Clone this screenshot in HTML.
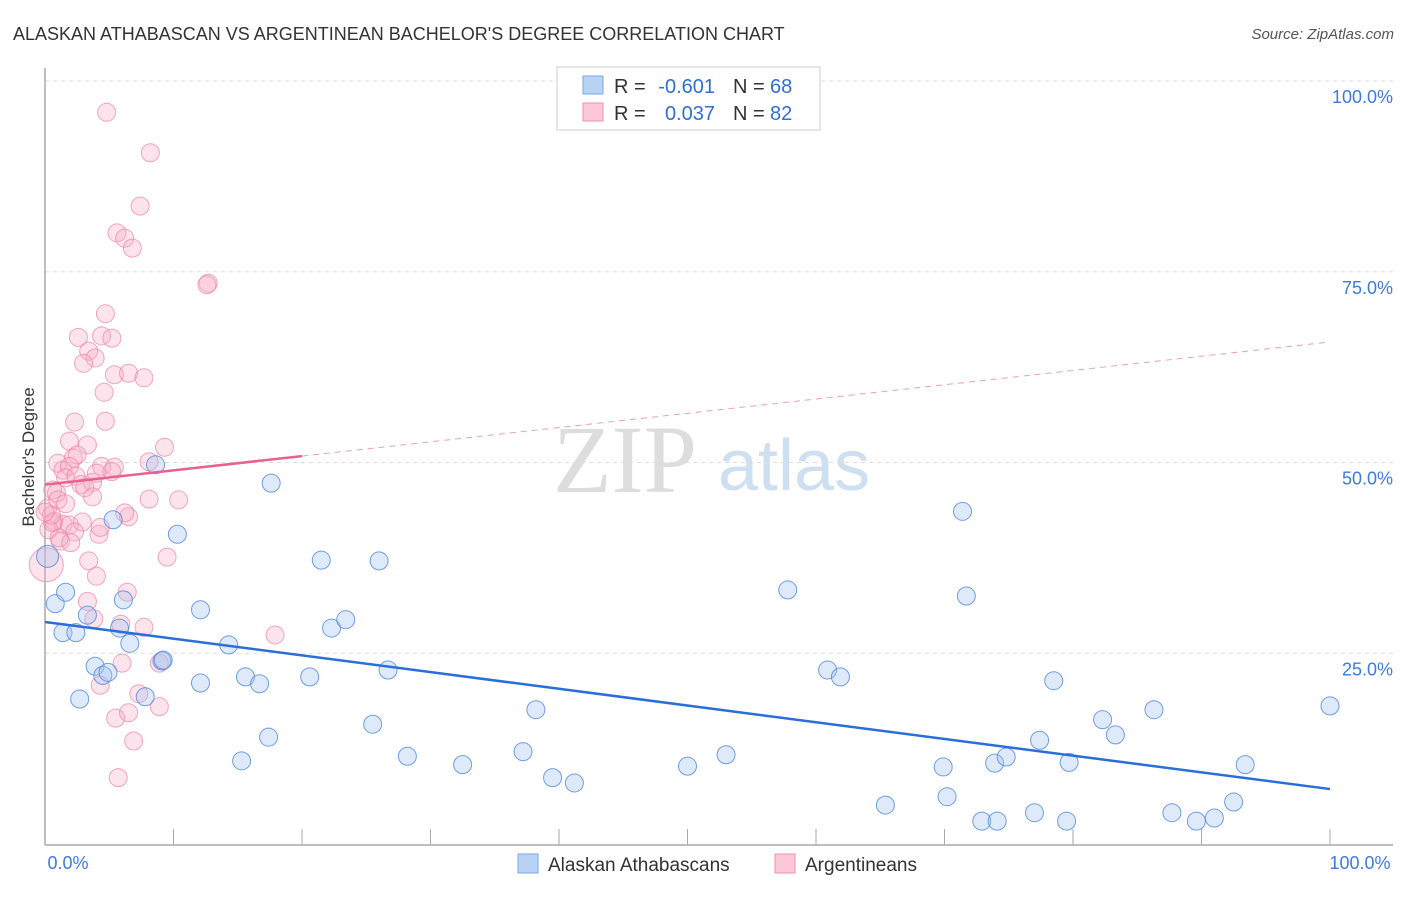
<!DOCTYPE html>
<html><head><meta charset="utf-8"><style>
body{margin:0;background:#fff;font-family:"Liberation Sans",sans-serif}
</style></head><body>
<svg id="chart" width="1406" height="892" xmlns="http://www.w3.org/2000/svg" font-family="Liberation Sans, sans-serif">
<text x="13" y="40" font-size="18" fill="#333">ALASKAN ATHABASCAN VS ARGENTINEAN BACHELOR'S DEGREE CORRELATION CHART</text>
<text x="1394" y="39" font-size="15" fill="#555" font-style="italic" text-anchor="end">Source: ZipAtlas.com</text>
<text transform="translate(34,457) rotate(-90)" font-size="17" fill="#333" text-anchor="middle">Bachelor's Degree</text>
<g><text x="553" y="492" font-size="96" font-family="Liberation Serif, serif" fill="#ddd">ZIP</text><text x="718" y="490" font-size="72" fill="#cfdff2">atlas</text></g>
<g id="grid"></g><g id="axes"></g><g id="pts"></g><g id="lines"></g>
<g>
<rect x="557" y="67" width="263" height="63" fill="#fff" stroke="#ccc"/>
<rect x="583" y="76" width="20" height="18" fill="#b9d3f5" stroke="#7aa6e6"/>
<rect x="583" y="103" width="20" height="18" fill="#fcc7d6" stroke="#ef93ae"/>
<text x="614" y="93" font-size="20" fill="#333">R =</text>
<text x="715" y="93" font-size="20" fill="#2f6fd6" text-anchor="end">-0.601</text>
<text x="733" y="93" font-size="20" fill="#333">N =</text>
<text x="770" y="93" font-size="20" fill="#2f6fd6">68</text>
<text x="614" y="120" font-size="20" fill="#333">R =</text>
<text x="715" y="120" font-size="20" fill="#2f6fd6" text-anchor="end">0.037</text>
<text x="733" y="120" font-size="20" fill="#333">N =</text>
<text x="770" y="120" font-size="20" fill="#2f6fd6">82</text>
</g>
<g>
<rect x="518" y="854" width="20" height="19" fill="#b9d3f5" stroke="#7aa6e6"/>
<text x="548" y="871" font-size="19" fill="#333">Alaskan Athabascans</text>
<rect x="775" y="854" width="20" height="19" fill="#fcc7d6" stroke="#ef93ae"/>
<text x="805" y="871" font-size="19" fill="#333">Argentineans</text>
</g>
</svg>
<script>
const blueX=[8.6,17.6,5.3,10.3,71.4,0.2,21.5,26.0,0.8,1.6,6.1,3.3,12.1,57.8,71.7,22.3,23.4,1.4,2.4,5.8,6.6,14.3,9.1,3.9,4.5,26.7,12.1,15.6,16.7,20.6,60.9,61.9,78.5,2.7,7.8,38.2,100,25.5,82.3,86.3,83.3,17.4,77.4,15.3,28.2,32.5,37.2,53.0,50.0,39.5,41.2,69.9,73.9,74.8,79.7,93.4,65.4,70.2,72.9,74.1,77.0,79.5,87.7,89.6,91.0,92.5,9.2,4.9];
const blueY=[49.7,47.3,42.5,40.6,43.6,37.7,37.2,37.1,31.5,33.0,32.0,30.0,30.7,33.3,32.5,28.3,29.4,27.7,27.7,28.3,26.3,26.1,24.0,23.3,22.1,22.8,21.1,21.9,21.0,21.9,22.8,21.9,21.4,19.0,19.3,17.6,18.1,15.7,16.3,17.6,14.3,14.0,13.6,10.9,11.5,10.4,12.1,11.7,10.2,8.7,8.0,10.1,10.6,11.4,10.7,10.4,5.1,6.2,3.0,3.0,4.1,3.0,4.1,3.0,3.4,5.5,24.1,22.5];
const pinkX=[4.8,8.2,7.4,5.6,6.2,6.8,12.7,12.6,4.7,2.6,4.4,5.2,3.4,3.9,3.0,5.4,6.5,7.7,4.6,2.3,4.7,1.9,3.3,9.3,1.0,2.2,2.5,1.4,1.9,1.6,2.4,3.7,4.4,5.4,8.1,0.6,0.9,0.2,3.7,8.1,10.4,0.7,1.4,1.9,2.9,0.3,0.6,2.3,1.2,1.1,4.2,6.5,6.2,9.5,3.4,4.0,0.1,6.4,3.3,3.8,5.9,7.7,17.9,8.9,6.0,4.3,7.3,8.9,5.5,6.5,6.9,5.7,5.2,4.0,1.0,1.6,2.8,3.1,0.5,4.3,0,2.0];
const pinkY=[95.9,90.6,83.6,80.1,79.4,78.1,73.5,73.3,69.5,66.4,66.6,66.3,64.6,63.7,63.0,61.5,61.7,61.1,59.2,55.3,55.4,52.8,52.3,52.0,49.9,50.6,51.0,49.0,49.5,48.0,48.2,47.4,49.5,49.4,50.1,46.4,46.0,44.0,45.5,45.2,45.1,42.3,41.9,41.8,42.2,41.2,42.1,40.9,39.7,40.1,40.6,42.9,43.4,37.6,37.1,35.1,36.6,33.0,31.8,29.5,28.8,28.4,27.4,23.7,23.7,20.8,19.7,18.0,16.5,17.2,13.5,8.7,48.8,48.6,45.1,44.6,47.1,46.7,43.1,41.5,43.5,39.5];
const blueTrend=[29.1,7.2];
const pinkTrend=[47.1,65.8];
const yTicks=[100,75,50,25];
const yTickLabels=["100.0%","75.0%","50.0%","25.0%"];
const NS="http://www.w3.org/2000/svg";
const X=v=>45+v*12.85, Y=v=>844-v*7.63;
function mk(t,a,p){const e=document.createElementNS(NS,t);for(const k in a)e.setAttribute(k,a[k]);document.getElementById(p).appendChild(e);return e;}
yTicks.forEach((t,i)=>{
 const g=mk('line',{x1:45,x2:1393,y1:Y(t),y2:Y(t),stroke:'#ddd','stroke-dasharray':'4,4'},'grid');
 
 
 const l=mk('text',{x:1393,y:Y(t)+22,'font-size':18,fill:'#3d7be0','text-anchor':'end'},'grid');
 l.textContent=yTickLabels[i];
 
 
});
const ax=mk('line',{x1:45,x2:45,y1:68,y2:845,stroke:'#aaa','stroke-width':1.5},'axes');


const xa=mk('line',{x1:45,x2:1393,y1:845,y2:845,stroke:'#aaa','stroke-width':1.5},'axes');


for(let i=1;i<=10;i++){const t=mk('line',{x1:X(i*10),x2:X(i*10),y1:829,y2:845,stroke:'#aaa'},'axes');
 
 }
[[0,"0.0%",68],[100,"100.0%",1360]].forEach(d=>{const t=mk('text',{x:d[2],y:869,'font-size':18,fill:'#3d7be0','text-anchor':'middle'},'axes');t.textContent=d[1];
 
 });
pinkX.forEach((v,i)=>{const c=mk('circle',{cx:X(v),cy:Y(pinkY[i]),r:(v===0.1?17:9),fill:'rgba(248,170,195,0.32)',stroke:'rgba(236,130,165,0.7)','stroke-width':1},'pts');
 
 });
blueX.forEach((v,i)=>{const c=mk('circle',{cx:X(v),cy:Y(blueY[i]),r:(i===5?11:9),fill:'rgba(160,195,240,0.35)',stroke:'rgba(80,135,220,0.8)','stroke-width':1},'pts');
 
 });
const bl=mk('line',{x1:X(0),y1:Y(blueTrend[0]),x2:X(100),y2:Y(blueTrend[1]),stroke:'#2a6fd8','stroke-width':2.5},'lines');


const pm=v=>pinkTrend[0]+(pinkTrend[1]-pinkTrend[0])*v/100;
const ps=mk('line',{x1:X(0),y1:Y(pm(0)),x2:X(20),y2:Y(pm(20)),stroke:'#e8628e','stroke-width':2.5},'lines');


const pd=mk('line',{x1:X(20),y1:Y(pm(20)),x2:X(100),y2:Y(pm(100)),stroke:'#e8a0b8','stroke-width':1,'stroke-dasharray':'6,5'},'lines');


</script>
</body></html>
